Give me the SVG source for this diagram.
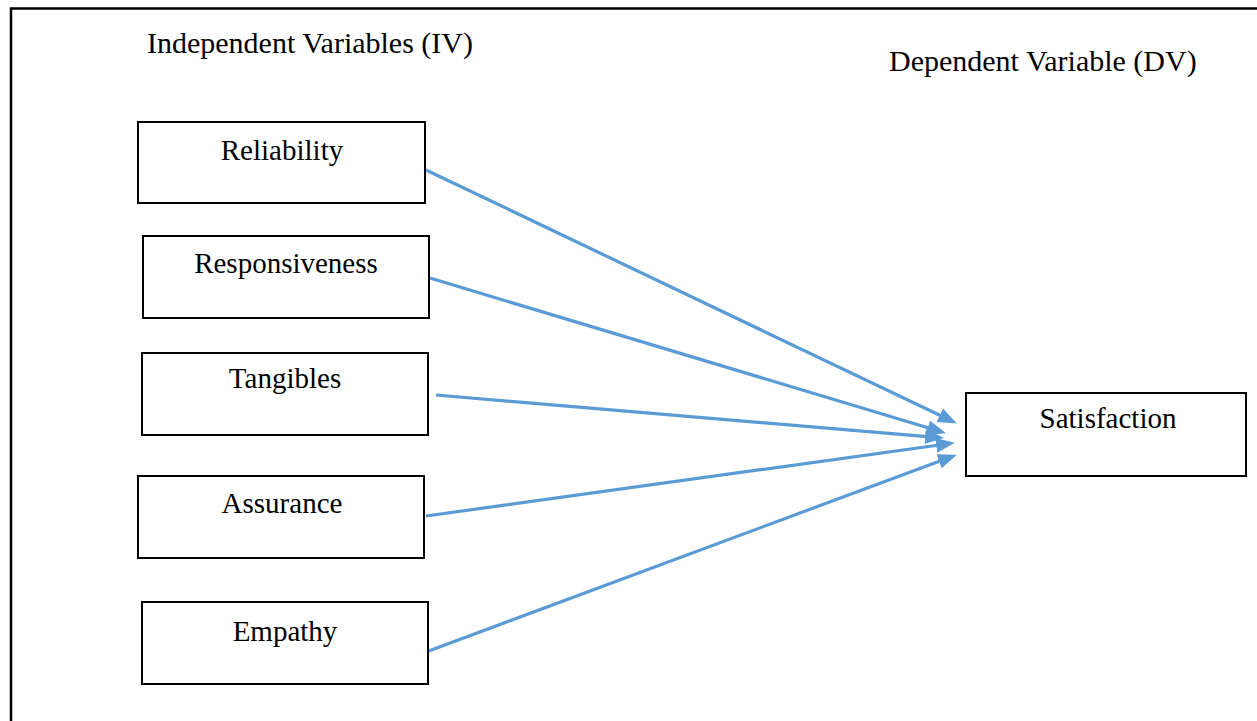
<svg xmlns="http://www.w3.org/2000/svg" width="1257" height="721" viewBox="0 0 1257 721">
<style>
.box{fill:#fff;stroke:#000;stroke-width:2}
.lbl{font-family:"Liberation Serif","Times New Roman",serif;font-size:29px;fill:#000}
.hdr{font-size:30px}
.mid{text-anchor:middle}
.conn{stroke:#5B9BD5;stroke-width:3.2;fill:none}
</style>
<defs>
<marker id="ah" markerUnits="userSpaceOnUse" markerWidth="19" markerHeight="15" refX="14" refY="7.5" orient="auto">
<path d="M0,0 L19,7.5 L0,15 z" fill="#5B9BD5"/>
</marker>
</defs>
<rect width="1257" height="721" fill="#fff"/>
<path d="M11,721 V8.5 H1257" fill="none" stroke="#000" stroke-width="2.5"/>
<text class="lbl hdr" x="147" y="53">Independent Variables (IV)</text>
<text class="lbl hdr" x="889" y="71">Dependent Variable (DV)</text>
<g id="connectors">
<line class="conn" x1="426" y1="170" x2="952.4" y2="421.3" marker-end="url(#ah)"/>
<line class="conn" x1="430" y1="278" x2="941.2" y2="431.8" marker-end="url(#ah)"/>
<line class="conn" x1="436" y1="395" x2="939" y2="437.7" marker-end="url(#ah)"/>
<line class="conn" x1="426" y1="516" x2="950" y2="443.5" marker-end="url(#ah)"/>
<line class="conn" x1="426" y1="652" x2="952.2" y2="456.4" marker-end="url(#ah)"/>
</g>
<g id="reliability">
<rect class="box" x="138" y="122" width="287" height="81"/>
<text class="lbl mid" x="282" y="160">Reliability</text>
</g>
<g id="responsiveness">
<rect class="box" x="143" y="236" width="286" height="82"/>
<text class="lbl mid" x="286" y="273">Responsiveness</text>
</g>
<g id="tangibles">
<rect class="box" x="142" y="353" width="286" height="82"/>
<text class="lbl mid" x="285" y="388">Tangibles</text>
</g>
<g id="assurance">
<rect class="box" x="138" y="476" width="286" height="82"/>
<text class="lbl mid" x="282" y="513">Assurance</text>
</g>
<g id="empathy">
<rect class="box" x="142" y="602" width="286" height="82"/>
<text class="lbl mid" x="285" y="641">Empathy</text>
</g>
<g id="satisfaction">
<rect class="box" x="966" y="393" width="280" height="83"/>
<text class="lbl mid" x="1108" y="428">Satisfaction</text>
</g>
</svg>
